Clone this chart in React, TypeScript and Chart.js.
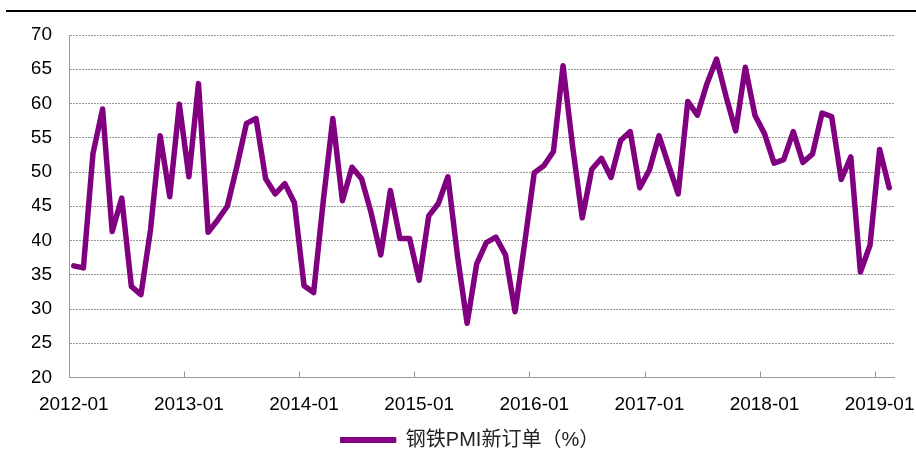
import React, { useEffect, useRef } from "react";
import { Chart, registerables } from "chart.js";

Chart.register(...registerables);

const START_YEAR = 2012;
const MONTH_COUNT = 86; // 2012-01 .. 2019-02
const MONTHS: string[] = [];
for (let i = 0; i < MONTH_COUNT; i++) {
  const y = START_YEAR + Math.floor(i / 12);
  const m = (i % 12) + 1;
  MONTHS.push(`${y}-${m < 10 ? "0" + m : m}`);
}

const SERIES_NAME = "钢铁PMI新订单（%）";

const NEW_ORDERS = [
  36.3, 36.0, 52.7, 59.2, 41.3, 46.2, 33.3, 32.1, 41.6, 55.3, 46.4, 59.9,
  49.3, 62.9, 41.2, 43.0, 45.0, 50.8, 57.1, 57.8, 49.0, 46.8, 48.3, 45.5,
  33.4, 32.4, 45.7, 57.8, 45.8, 50.7, 49.0, 44.0, 37.9, 47.3, 40.3, 40.3,
  34.2, 43.6, 45.4, 49.3, 37.7, 27.9, 36.6, 39.7, 40.5, 37.9, 29.6, 39.6,
  49.9, 50.9, 53.0, 65.5, 53.7, 43.3, 50.4, 52.0, 49.2, 54.6, 55.9, 47.7,
  50.3, 55.3, 51.0, 46.8, 60.3, 58.3, 62.9, 66.5, 61.0, 56.0, 65.3, 58.3,
  55.6, 51.3, 51.8, 55.9, 51.4, 52.6, 58.6, 58.1, 48.9, 52.2, 35.4, 39.3,
  53.3, 47.7,
];

const Y_MIN = 20;
const Y_MAX = 70;
const Y_STEP = 5;

const FONT = "'Liberation Sans', Arial, 'Noto Sans CJK SC', sans-serif";
const PURPLE = "#800080";
const AXIS_GRAY = "#999999";

const decorPlugin = {
  id: "decor",
  afterLayout(chart: any) {
    if (chart.legend) {
      chart.legend.left += 14;
    }
  },
  beforeDraw(chart: any) {
    const ctx = chart.ctx;
    ctx.save();
    ctx.fillStyle = "#000";
    ctx.fillRect(6, 10, 910, 2);
    ctx.restore();
  },
  afterDraw(chart: any) {
    const ctx = chart.ctx;
    const xs = chart.scales.x;
    const area = chart.chartArea;
    const half = (xs.getPixelForValue(1) - xs.getPixelForValue(0)) / 2;
    ctx.save();
    ctx.strokeStyle = AXIS_GRAY;
    ctx.lineWidth = 1;
    MONTHS.forEach((lab, i) => {
      if (i > 0 && lab.endsWith("-01")) {
        const x = Math.round(xs.getPixelForValue(i) - half) + 0.5;
        ctx.beginPath();
        ctx.moveTo(x, area.bottom - 6);
        ctx.lineTo(x, area.bottom);
        ctx.stroke();
      }
    });
    ctx.restore();
  },
};

export default function App() {
  const ref = useRef<HTMLCanvasElement | null>(null);
  useEffect(() => {
    if (!ref.current) return;
    const chart = new Chart(ref.current, {
      type: "line",
      data: {
        labels: MONTHS,
        datasets: [
          {
            label: SERIES_NAME,
            data: NEW_ORDERS,
            borderColor: PURPLE,
            backgroundColor: PURPLE,
            borderWidth: 5.5,
            pointRadius: 0,
            pointHoverRadius: 0,
            tension: 0,
            borderJoinStyle: "round",
            borderCapStyle: "round",
          },
        ],
      },
      options: {
        responsive: false,
        animation: false,
        events: [],
        layout: { padding: { top: 35, right: 22, left: 32, bottom: 0 } },
        plugins: {
          tooltip: { enabled: false },
          legend: {
            position: "bottom",
            labels: {
              boxWidth: 55,
              boxHeight: 5,
              padding: 8,
              color: "#222",
              font: { family: FONT, size: 20 },
              generateLabels: (c: any) =>
                Chart.defaults.plugins.legend.labels
                  .generateLabels(c)
                  .map((it: any) => ({
                    ...it,
                    lineWidth: 1,
                    fillStyle: PURPLE,
                    strokeStyle: PURPLE,
                  })),
            },
          },
        },
        scales: {
          x: {
            type: "category",
            offset: true,
            grid: { display: false },
            border: { display: true, color: AXIS_GRAY, width: 1 },
            ticks: {
              autoSkip: false,
              maxRotation: 0,
              minRotation: 0,
              padding: 8,
              color: "#000",
              font: { family: FONT, size: 19 },
              callback: (_v: any, i: number) =>
                MONTHS[i].endsWith("-01") ? MONTHS[i] : "",
            },
            afterFit: (s: any) => {
              s.height = 44.5;
            },
          },
          y: {
            min: Y_MIN,
            max: Y_MAX,
            ticks: {
              stepSize: Y_STEP,
              padding: 17,
              color: "#000",
              font: { family: FONT, size: 19 },
            },
            grid: { color: AXIS_GRAY, drawTicks: false, lineWidth: 1 },
            border: { display: true, color: AXIS_GRAY, width: 1, dash: [2, 1] },
            afterFit: (s: any) => {
              s.width = 37;
            },
          },
        },
      },
      plugins: [decorPlugin],
    });
    return () => chart.destroy();
  }, []);

  return (
    <div
      style={{
        position: "fixed",
        left: 0,
        top: 0,
        width: 916,
        height: 455,
        overflow: "hidden",
        background: "#fff",
      }}
    >
      <canvas ref={ref} width={916} height={460} style={{ display: "block" }} />
    </div>
  );
}
